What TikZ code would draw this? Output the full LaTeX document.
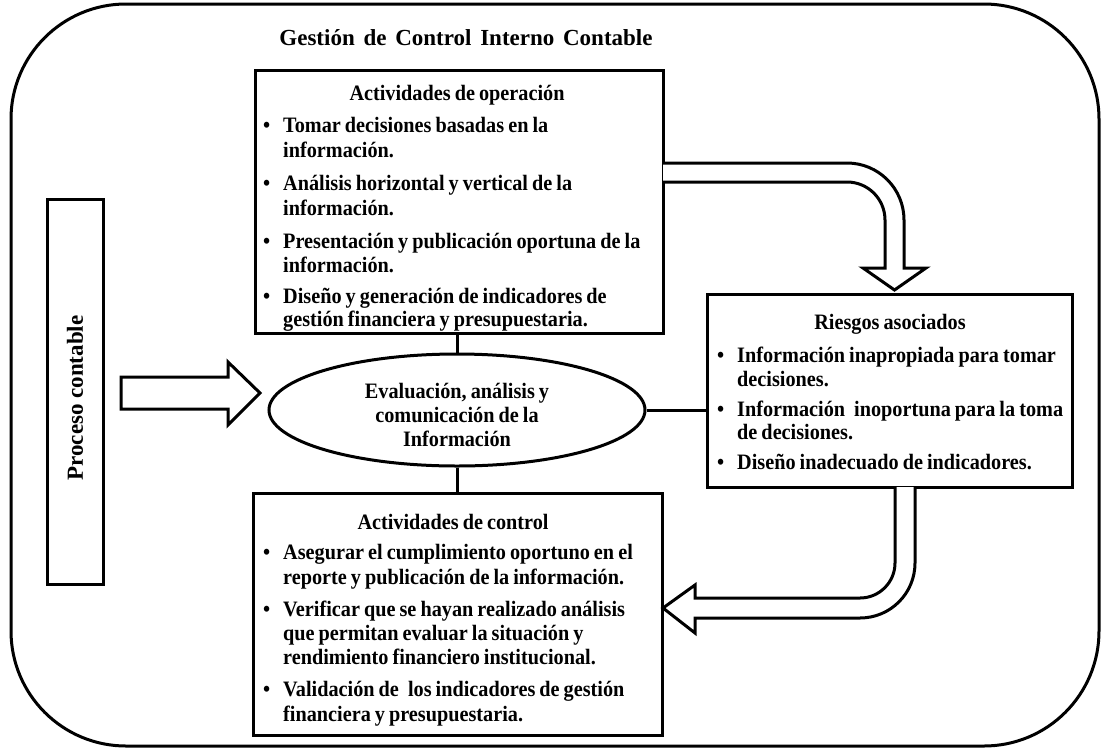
\documentclass[tikz,border=0pt]{standalone}
\usepackage{fontspec}
\setmainfont{Liberation Serif}[FakeStretch=0.92, WordSpace=0.8]
\newfontfamily\widefont{Liberation Serif}
\usetikzlibrary{shapes.geometric}

\tikzset{
  frame/.style={draw, line width=3pt, rounded corners=115pt},
  panel/.style={draw, line width=3pt, fill=white, inner sep=0pt},
  link/.style={draw, line width=3pt},
  blockarrow/.style={draw, line width=3pt, fill=white, line join=miter},
  txt/.style={anchor=base west, inner sep=0pt, font=\fontsize{22}{26}\selectfont\bfseries},
  ctxt/.style={anchor=base, inner sep=0pt, font=\fontsize{22}{26}\selectfont\bfseries},
  headtxt/.style={anchor=base, inner sep=0pt, font=\widefont\fontsize{23}{27}\selectfont\bfseries},
  sidetxt/.style={inner sep=0pt, rotate=90, font=\widefont\fontsize{23}{27}\selectfont\bfseries},
}

% one text line; #1 name, #2 x, #3 baseline y, #4 text
\newcommand\tline[4]{\node[txt] (#1) at (#2,#3) {#4};}
% bulleted first line of an item
\newcommand\bline[4]{\node[txt] (#1) at (#2-20,#3) {\makebox[20pt][l]{\textbullet}#4};}

\begin{document}
\begin{tikzpicture}[x=1pt, y=-1pt]
\useasboundingbox (0,0) rectangle (1102,750);

% outer frame
\draw[frame] (11,4) rectangle (1099,746);

% title
\node[headtxt] (title) at (466,45) {Gestión\hspace{3pt} de\hspace{3pt} Control\hspace{3pt} Interno\hspace{3pt} Contable};

% process column
\node[panel, minimum width=56pt, minimum height=385pt] (proc) at (75,392) {};
\node[sidetxt] (proct) at (75,398) {Proceso contable};

% operation activities
\node[panel, minimum width=408pt, minimum height=263pt] (op) at (459,201.5) {};
\node[ctxt] (opt) at (457,100) {Actividades de operación};
\bline{op1a}{283}{132}{Tomar decisiones basadas en la}
\tline{op1b}{283}{157}{información.}
\bline{op2a}{283}{190}{Análisis horizontal y vertical de la}
\tline{op2b}{283}{215}{información.}
\bline{op3a}{283}{248}{Presentación y publicación oportuna de la}
\tline{op3b}{283}{272}{información.}
\bline{op4a}{283}{303}{Diseño y generación de indicadores de}
\tline{op4b}{283}{326}{gestión financiera y presupuestaria.}

% central process
\node[draw, line width=3pt, ellipse, minimum width=376pt, minimum height=112pt, inner sep=0pt] (ev) at (457,410) {};
\node[ctxt] (ev1) at (457,398) {Evaluación, análisis y};
\node[ctxt] (ev2) at (457,422) {comunicación de la};
\node[ctxt] (ev3) at (457,446) {Información};

% associated risks
\node[panel, minimum width=365pt, minimum height=193pt] (risk) at (889.5,390.5) {};
\node[ctxt] (riskt) at (890,329) {Riesgos asociados};
\bline{r1a}{737}{362}{Información inapropiada para tomar}
\tline{r1b}{737}{386}{decisiones.}
\bline{r2a}{737}{416}{Información\hspace{5pt} inoportuna para la toma}
\tline{r2b}{737}{439}{de decisiones.}
\bline{r3a}{737}{469}{Diseño inadecuado de indicadores.}

% control activities
\node[panel, minimum width=409pt, minimum height=242pt] (ctl) at (457.5,614) {};
\node[ctxt] (ctlt) at (453,529) {Actividades de control};
\bline{c1a}{283}{559}{Asegurar el cumplimiento oportuno en el}
\tline{c1b}{283}{584}{reporte y publicación de la información.}
\bline{c2a}{283}{616}{Verificar que se hayan realizado análisis}
\tline{c2b}{283}{640}{que permitan evaluar la situación y}
\tline{c2c}{283}{664}{rendimiento financiero institucional.}
\bline{c3a}{283}{696}{Validación de\hspace{5pt} los indicadores de gestión}
\tline{c3b}{283}{721}{financiera y presupuestaria.}

% plain connectors
\draw[link] (op.south -| ev.north) -- (ev.north);
\draw[link] (ev.south) -- (ev.south |- ctl.north);
\draw[link] (ev.east) -- (ev.east -| risk.west);

% block arrow from the process column to the evaluation
\coordinate (pb) at (260,393);
\draw[blockarrow] (121,377) -- (228,377) -- (228,362) -- (pb) -- (228,425) -- (228,409) -- (121,409) -- cycle;

% curved block arrow: operation -> risks
\draw[blockarrow] (663,163) -- (847,163) .. controls (878.5,163) and (904,188.5) .. (904,220)
  -- (904,268) -- (926,268) -- (894.5,290) -- (863,268) -- (885,268) -- (885,220)
  .. controls (885,199) and (868,182) .. (847,182) -- (663,182);

% curved block arrow: risks -> control
\draw[blockarrow] (915,487) -- (915,563) .. controls (915,593.4) and (890.4,618) .. (860,618)
  -- (695,618) -- (695,633) -- (663,608) -- (695,585) -- (695,598) -- (860,598)
  .. controls (879.3,598) and (895,582.3) .. (895,563) -- (895,487);

\end{tikzpicture}
\end{document}
